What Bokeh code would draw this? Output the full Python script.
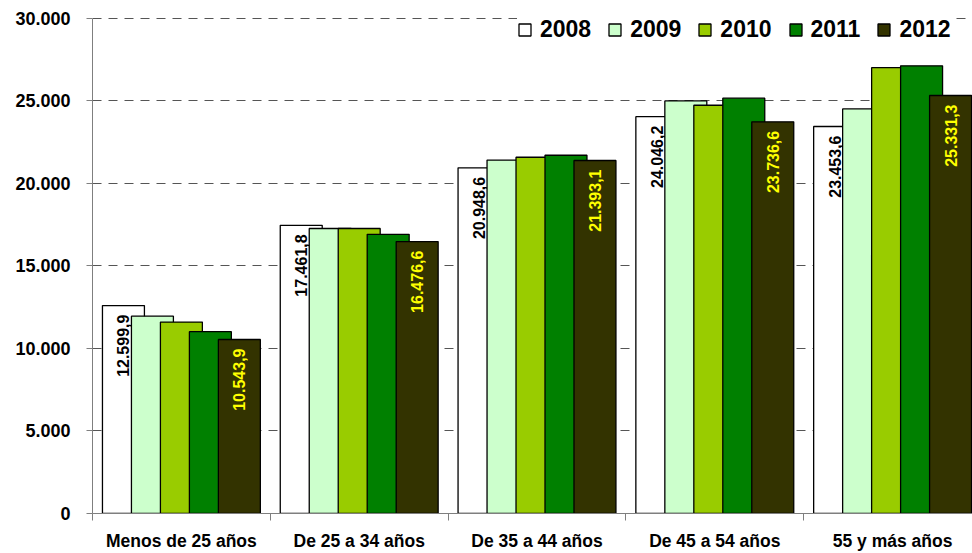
import math
from bokeh.plotting import figure
from bokeh.models import (ColumnDataSource, Range1d, FixedTicker, CustomJSTickFormatter,
                          Legend, LegendItem)
from bokeh.core.properties import value
from bokeh.embed import file_html
from bokeh.resources import INLINE

categories = ["Menos de 25 años", "De 25 a 34 años", "De 35 a 44 años",
              "De 45 a 54 años", "55 y más años"]
years = ["2008", "2009", "2010", "2011", "2012"]
v2008 = [12599.9, 17461.8, 20948.6, 24046.2, 23453.6]
v2009 = [11960, 17270, 21420, 25000, 24520]
v2010 = [11600, 17270, 21590, 24740, 27020]
v2011 = [11020, 16920, 21710, 25170, 27130]
v2012 = [10543.9, 16476.6, 21393.1, 23736.6, 25331.3]
series = [v2008, v2009, v2010, v2011, v2012]
colors = ["#FFFFFF", "#CCFFCC", "#99CC00", "#008000", "#333300"]
y_ticks = [0, 5000, 10000, 15000, 20000, 25000, 30000]

FONT = "Liberation Sans"

def es_fmt(v):
    s = f"{v:,.1f}"
    return s.replace(",", "X").replace(".", ",").replace("X", ".")

# frame spans the full top so the legend sits inside it; 30.000 lands 18px below the top
FRAME_H = 514
y_max = y_ticks[-1]
p = figure(width=972, height=553, output_backend="svg", toolbar_location=None,
           x_range=Range1d(0, 880 / 177.8), y_range=Range1d(0, y_max * FRAME_H / (FRAME_H - 18)),
           min_border_left=92, min_border_right=0, min_border_top=0,
           min_border_bottom=553 - FRAME_H)
p.outline_line_color = None
p.background_fill_color = "white"

step = 0.163
bw = 0.236
renderers = []
for j, (yr, vals, col) in enumerate(zip(years, series, colors)):
    xs = [i + 0.5 + (j - 2) * step for i in range(len(categories))]
    src = ColumnDataSource(dict(x=xs, top=vals, lab=[es_fmt(v) for v in vals]))
    r = p.vbar(x="x", top="top", width=bw, bottom=0, source=src,
               fill_color=col, line_color="black", line_width=1.3)
    renderers.append(r)
    if j in (0, 4):
        p.text(x="x", y="top", text="lab", source=src, angle=math.pi / 2,
               text_align="right", text_baseline="middle", y_offset=9,
               text_font=value(FONT), text_font_style="bold", text_font_size="16px",
               text_color="black" if j == 0 else "#FFFF00")

# axes
p.yaxis.ticker = FixedTicker(ticks=y_ticks)
p.yaxis.bounds = (0, y_max)
p.yaxis.formatter = CustomJSTickFormatter(code="""
    const s = Math.round(tick).toString();
    return s.replace(/\\B(?=(\\d{3})+(?!\\d))/g, ".");
""")
p.yaxis.major_label_text_font = FONT
p.yaxis.major_label_text_font_style = "bold"
p.yaxis.major_label_text_font_size = "18px"
p.yaxis.major_label_text_color = "black"
p.yaxis.major_label_standoff = 16
p.yaxis.major_tick_out = 6
p.yaxis.major_tick_in = 0
p.yaxis.minor_tick_line_color = None
p.yaxis.axis_line_color = "#7f7f7f"
p.yaxis.major_tick_line_color = "#7f7f7f"

centers = [i + 0.5 for i in range(len(categories))]
bounds = [float(i) for i in range(len(categories) + 1)]
p.xaxis.ticker = FixedTicker(ticks=centers, minor_ticks=bounds)
p.xaxis.major_label_overrides = {c: n for c, n in zip(centers, categories)}
p.xaxis.major_tick_line_color = None
p.xaxis.major_tick_out = 0
p.xaxis.major_tick_in = 0
p.xaxis.minor_tick_out = 7
p.xaxis.minor_tick_in = 0
p.xaxis.minor_tick_line_color = "#7f7f7f"
p.xaxis.axis_line_color = "#7f7f7f"
p.xaxis.major_label_text_font = FONT
p.xaxis.major_label_text_font_style = "bold"
p.xaxis.major_label_text_font_size = "17.5px"
p.xaxis.major_label_text_color = "black"
p.xaxis.major_label_standoff = 10

p.xgrid.grid_line_color = None
p.ygrid.ticker = FixedTicker(ticks=y_ticks[1:])
p.ygrid.grid_line_color = "#555555"
p.ygrid.grid_line_dash = "9 7"
p.ygrid.grid_line_width = 1

legend = Legend(items=[LegendItem(label=yr, renderers=[r]) for yr, r in zip(years, renderers)],
                orientation="horizontal", location=(425, FRAME_H - 44),
                label_text_font=FONT, label_text_font_style="bold", label_text_font_size="23px",
                label_text_color="black", glyph_width=15, glyph_height=15, label_standoff=8,
                spacing=16, padding=4, margin=0, border_line_color=None,
                background_fill_color="white", background_fill_alpha=1.0)
p.add_layout(legend, "center")

open("out.html", "w").write(file_html(p, INLINE))
